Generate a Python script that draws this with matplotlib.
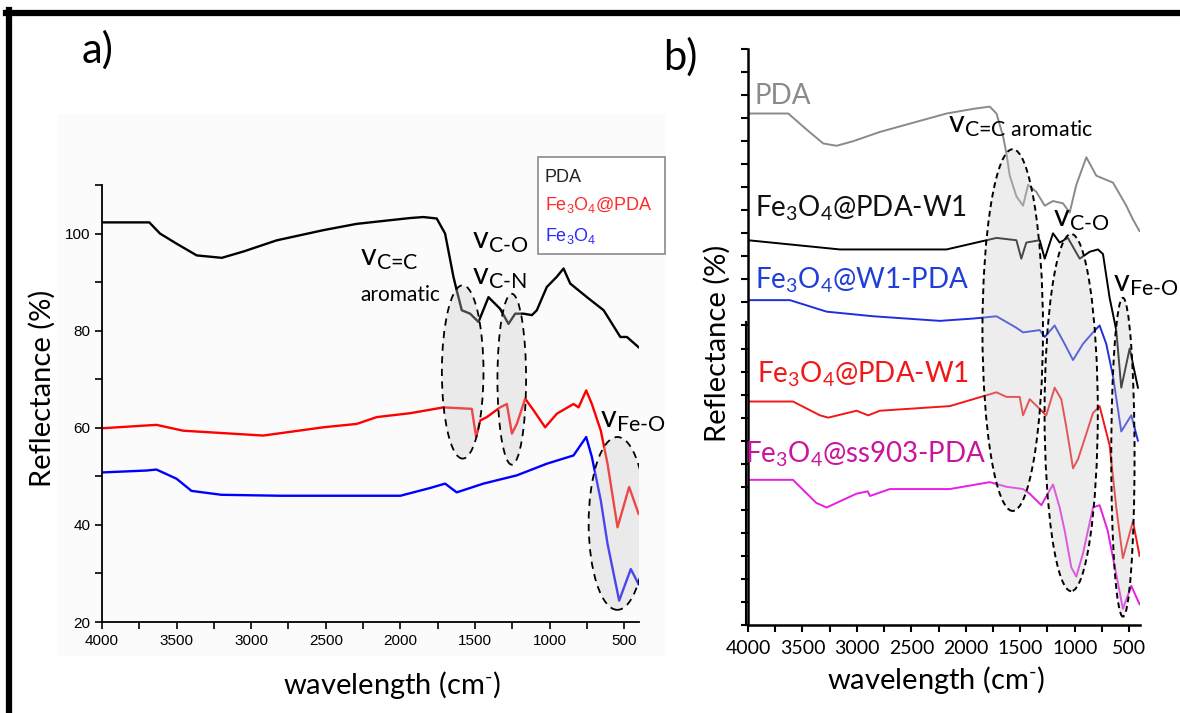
import matplotlib
matplotlib.use('Agg')
import matplotlib.pyplot as plt
from matplotlib.patches import Ellipse, Rectangle
from matplotlib.lines import Line2D
from matplotlib.ticker import MultipleLocator, NullFormatter

plt.rcParams['font.family'] = ['Lato', 'DejaVu Sans']
plt.rcParams['mathtext.fontset'] = 'custom'
plt.rcParams['mathtext.rm'] = 'Lato'
plt.rcParams['mathtext.it'] = 'Lato:italic'
plt.rcParams['mathtext.bf'] = 'Lato:bold'
plt.rcParams['mathtext.default'] = 'regular'

# ---- panel a) data ----
a_pda_x = [4000, 3683, 3611, 3499, 3365, 3197, 3052, 2829, 2516, 2292, 1934, 1845, 1756, 1700, 1644, 1622,
           1588, 1532, 1476, 1409, 1331, 1275, 1230, 1174, 1118, 1085, 1018, 951, 906, 861, 749, 637, 525, 481, 403]
a_pda_y = [102.3, 102.3, 100.0, 97.9, 95.5, 95.0, 96.3, 98.6, 100.7, 102.0, 103.2, 103.4, 103.1, 100.0, 91.1, 88.3,
           84.2, 83.5, 81.8, 86.9, 84.5, 81.4, 83.5, 83.5, 83.2, 84.2, 89.0, 91.1, 92.8, 89.7, 86.9, 84.2, 78.7, 78.7, 76.6]
a_fepda_x = [4000, 3635, 3456, 2919, 2516, 2292, 2158, 1934, 1711, 1521, 1492, 1465, 1420, 1331, 1286, 1252,
             1219, 1163, 1107, 1029, 951, 839, 805, 754, 716, 656, 611, 544, 466, 403]
a_fepda_y = [59.9, 60.6, 59.4, 58.4, 60.1, 60.8, 62.2, 63.0, 64.2, 63.9, 58.1, 61.5, 62.2, 64.2, 64.9, 58.8,
             60.8, 66.0, 63.6, 60.1, 62.9, 64.9, 64.2, 67.7, 64.9, 59.4, 52.6, 39.5, 47.8, 42.3]
a_fe_x = [4000, 3700, 3635, 3500, 3400, 3200, 2800, 2500, 2000, 1800, 1700, 1622, 1443, 1219, 1018, 839,
          754, 716, 656, 611, 533, 455, 403]
a_fe_y = [50.8, 51.2, 51.4, 49.5, 47.0, 46.2, 46.0, 46.0, 46.0, 47.6, 48.5, 46.7, 48.5, 50.2, 52.6, 54.3,
          58.1, 54.0, 45.0, 36.1, 24.4, 30.9, 27.8]
a_labels = ['PDA', 'Fe$_3$O$_4$@PDA', 'Fe$_3$O$_4$']

# ---- panel b) data ----
b_pda_x = [4000, 3630, 3461, 3309, 3186, 3033, 2789, 2483, 2177, 1933, 1780, 1718, 1657, 1628, 1596, 1535,
           1474, 1428, 1352, 1275, 1199, 1107, 1046, 985, 893, 801, 648, 526, 465, 405]
b_pda_y = [22.2, 22.2, 21.5, 20.9, 20.8, 21.0, 21.4, 21.8, 22.2, 22.4, 22.5, 22.2, 21.2, 20.5, 19.5, 18.6,
           18.2, 19.1, 18.8, 18.2, 18.4, 18.3, 17.9, 19.1, 20.3, 19.5, 19.2, 18.2, 17.6, 17.1]
b_w1_x = [4000, 3156, 2177, 1718, 1535, 1490, 1444, 1321, 1275, 1199, 1138, 1062, 954, 862, 786, 740,
          679, 618, 572, 495, 419]
b_w1_y = [16.7, 16.3, 16.3, 16.8, 16.7, 15.9, 16.6, 16.7, 15.9, 17.0, 16.6, 16.8, 15.9, 16.2, 16.3, 16.1,
          14.2, 12.8, 10.3, 12.0, 10.3]
b_w1pda_x = [4000, 3615, 3278, 2850, 2239, 1933, 1718, 1535, 1474, 1321, 1275, 1184, 1092, 1015, 924, 832,
             771, 710, 648, 572, 480, 419]
b_w1pda_y = [14.1, 14.1, 13.6, 13.4, 13.2, 13.3, 13.4, 12.9, 12.7, 12.8, 12.5, 13.0, 12.2, 11.5, 12.2, 12.7,
             13.0, 12.2, 10.8, 8.4, 9.1, 8.0]
b_pdaw1_x = [4000, 3587, 3339, 3263, 3003, 2896, 2789, 2147, 1718, 1627, 1505, 1474, 1413, 1261, 1184, 1123,
             1077, 1015, 969, 893, 832, 771, 679, 618, 557, 465, 404]
b_pdaw1_y = [9.7, 9.7, 9.1, 9.0, 9.3, 9.1, 9.3, 9.5, 10.1, 9.9, 9.9, 9.1, 9.8, 9.1, 10.3, 9.8,
             8.6, 6.8, 7.2, 8.3, 9.2, 9.5, 7.8, 5.1, 2.9, 4.5, 3.0]
b_ss_x = [4000, 3587, 3373, 3278, 3003, 2900, 2880, 2697, 2147, 1780, 1627, 1474, 1413, 1306, 1199, 1138,
          1092, 1031, 985, 924, 832, 771, 697, 618, 557, 480, 404]
b_ss_y = [6.3, 6.3, 5.3, 5.1, 5.7, 5.8, 5.6, 5.9, 5.9, 6.2, 6.0, 5.9, 5.7, 5.2, 6.1, 5.1,
          4.1, 2.5, 2.1, 3.1, 5.1, 5.2, 4.1, 2.2, 0.7, 1.7, 0.9]

W, H = 1180, 713
fig = plt.figure(figsize=(W / 100, H / 100), dpi=100)

def fx(px):
    return px / W

def fy(py):
    return 1 - py / H

# outer frame and faint panel a background
fig.add_artist(Line2D([fx(6), 1.0], [fy(13), fy(13)], color='black', lw=4.5))
fig.add_artist(Line2D([fx(9), fx(9)], [fy(10), 0.0], color='black', lw=4.5))
fig.patches.append(Rectangle((fx(58), fy(656)), fx(665) - fx(58), fy(114) - fy(656),
                             transform=fig.transFigure, facecolor='#fbfbfb', edgecolor='none', zorder=-5))

# ================= panel a =================
axa = fig.add_axes([fx(102), fy(622), fx(639) - fx(102), fy(185) - fy(622)])
axa.set_facecolor('none')
axa.plot(a_pda_x, a_pda_y, color='black', lw=1.7, zorder=2)
axa.plot(a_fepda_x, a_fepda_y, color='#ff0000', lw=1.7, zorder=2)
axa.plot(a_fe_x, a_fe_y, color='#0000ff', lw=1.7, zorder=2)
axa.set_xlim(4000, 400)
axa.set_ylim(20, 110)
for s in ['top', 'right']:
    axa.spines[s].set_visible(False)
for s in ['left', 'bottom']:
    axa.spines[s].set_linewidth(1.3)
axa.xaxis.set_major_locator(MultipleLocator(500))
axa.xaxis.set_minor_locator(MultipleLocator(250))
axa.yaxis.set_major_locator(MultipleLocator(20))
axa.yaxis.set_minor_locator(MultipleLocator(10))
axa.tick_params(which='both', direction='out', width=1.2, length=5, labelsize=11)
for lab in axa.get_xticklabels() + axa.get_yticklabels():
    lab.set_family(['Liberation Sans', 'DejaVu Sans'])

for cx, cy, w, h in [(1582, 71.5, 279, 35.7), (1253, 70.0, 192, 35.2), (545, 40.3, 385, 35.6)]:
    axa.add_patch(Ellipse((cx, cy), w, h, facecolor='#cccccc', alpha=0.35, edgecolor='none', zorder=3))
    axa.add_patch(Ellipse((cx, cy), w, h, facecolor='none', edgecolor='black', ls=(0, (4, 3)), lw=1.3, zorder=4))

axa.text(2270, 94.9, r'v$_{\text{C=C}}$', fontsize=22, va='center', ha='left')
axa.text(2001, 87.3, 'aromatic', fontsize=15, va='center', ha='center')
axa.text(1518, 98.4, r'v$_{\text{C-O}}$', fontsize=22, va='center', ha='left')
axa.text(1518, 91.0, r'v$_{\text{C-N}}$', fontsize=22, va='center', ha='left')
axa.text(660, 61.5, r'v$_{\text{Fe-O}}$', fontsize=22, va='center', ha='left')

# legend box (text only, coloured)
fig.patches.append(Rectangle((fx(538), fy(254)), fx(665) - fx(538), fy(157) - fy(254),
                             transform=fig.transFigure, facecolor='white', edgecolor='#8a8a8a', lw=1.2, zorder=5))
for lab, col, py in zip(a_labels, ['#222222', '#ff2a2a', '#2a2aff'], [177, 205, 236]):
    fig.text(fx(545), fy(py), lab, color=col, fontsize=13, va='center', ha='left',
             family=['Liberation Sans', 'DejaVu Sans'], zorder=6)

fig.text(fx(98), fy(50), 'a)', fontsize=30, ha='center', va='center')
fig.text(fx(42), fy(388), 'Reflectance (%)', fontsize=21, rotation=90, ha='center', va='center')
fig.text(fx(392), fy(685), r'wavelength (cm$^{\text{-}}$)', fontsize=21, ha='center', va='center')

# ================= panel b =================
axb = fig.add_axes([fx(748), fy(625), fx(1140) - fx(748), fy(49) - fy(625)])
axb.set_facecolor('none')
axb.plot(b_pda_x, b_pda_y, color='#8a8a8a', lw=1.4, zorder=2)
axb.plot(b_w1_x, b_w1_y, color='black', lw=1.4, zorder=2)
axb.plot(b_w1pda_x, b_w1pda_y, color='#1f2fe0', lw=1.4, zorder=2)
axb.plot(b_pdaw1_x, b_pdaw1_y, color='#f01818', lw=1.4, zorder=2)
axb.plot(b_ss_x, b_ss_y, color='#e61ee6', lw=1.4, zorder=2)
axb.set_xlim(4000, 400)
axb.set_ylim(0, 25)
for s in ['top', 'right']:
    axb.spines[s].set_visible(False)
for s in ['left', 'bottom']:
    axb.spines[s].set_linewidth(1.8)
axb.xaxis.set_major_locator(MultipleLocator(500))
axb.xaxis.set_minor_locator(MultipleLocator(250))
axb.yaxis.set_major_locator(MultipleLocator(1))
axb.yaxis.set_major_formatter(NullFormatter())
axb.tick_params(which='both', direction='out', width=1.5, length=5, labelsize=14)
axb.tick_params(axis='x', pad=6)
axb.add_artist(Line2D([-0.004, -0.004], [0, 0.526], transform=axb.transAxes, color='black', lw=1.5, clip_on=False))

for cx, cy, w, h in [(1569, 12.8, 556, 15.7), (1032, 9.22, 489, 15.5), (557, 7.28, 214, 13.84)]:
    axb.add_patch(Ellipse((cx, cy), w, h, facecolor='#cccccc', alpha=0.35, edgecolor='none', zorder=3))
    axb.add_patch(Ellipse((cx, cy), w, h, facecolor='none', edgecolor='black', ls=(0, (3, 2)), lw=1.4, zorder=4))

axb.text(3936, 22.96, 'PDA', color='#8a8a8a', fontsize=20, va='center', ha='left')
axb.text(2165, 21.7, r'v$_{\text{C=C aromatic}}$', fontsize=22, va='center', ha='left')
axb.text(3936, 18.1, 'Fe$_3$O$_4$@PDA-W1', color='#111111', fontsize=20, va='center', ha='left')
axb.text(1202, 17.6, r'v$_{\text{C-O}}$', fontsize=22, va='center', ha='left')
axb.text(3936, 14.96, 'Fe$_3$O$_4$@W1-PDA', color='#1f3fd8', fontsize=20, va='center', ha='left')
axb.text(651, 14.8, r'v$_{\text{Fe-O}}$', fontsize=22, va='center', ha='left', clip_on=False)
axb.text(3920, 10.9, 'Fe$_3$O$_4$@PDA-W1', color='#f01818', fontsize=20, va='center', ha='left')
axb.text(4030, 7.4, 'Fe$_3$O$_4$@ss903-PDA', color='#c8159e', fontsize=20, va='center', ha='left', clip_on=False)

fig.text(fx(680), fy(57), 'b)', fontsize=30, ha='center', va='center')
fig.text(fx(717), fy(343), 'Reflectance (%)', fontsize=21, rotation=90, ha='center', va='center')
fig.text(fx(936), fy(680), r'wavelength (cm$^{\text{-}}$)', fontsize=21, ha='center', va='center')

fig.savefig('out.png', dpi=100)
